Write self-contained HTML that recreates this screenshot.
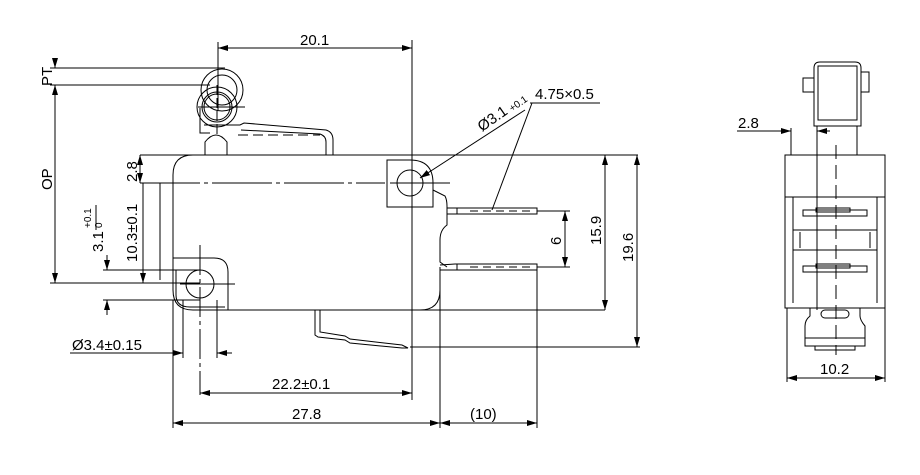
<!DOCTYPE html>
<html><head><meta charset="utf-8"><style>
html,body{margin:0;padding:0;background:#fff}
svg{display:block}
text{font-family:"Liberation Sans",sans-serif;font-size:15px;fill:#000}
</style></head><body>
<svg width="920" height="475" viewBox="0 0 920 475" xmlns="http://www.w3.org/2000/svg">
<defs>
<marker id="a" viewBox="0 0 10 6" refX="10" refY="3" markerWidth="10" markerHeight="6" orient="auto-start-reverse" markerUnits="userSpaceOnUse"><path d="M0,0L10,3L0,6z" fill="#000"/></marker>
</defs>
<g fill="none" stroke="#000" stroke-width="1">
<circle cx="222" cy="90" r="21"/><circle cx="222" cy="90" r="15"/>
<circle cx="217" cy="107" r="20"/><circle cx="217" cy="107" r="13"/><circle cx="217" cy="107" r="15"/>
<path d="M200,108 L200,133 L210,133 M204,125 L240,125 L244,123 L326,130 Q333,132 333,140 L333,155"/>
<path d="M241,130 L320,134 Q326,136 326,142 L326,155"/>
<path d="M205,155 L205,142 Q216,128 227,142 L227,155"/>
<path d="M238,135 L320,135" stroke-dasharray="10,5"/>
<line x1="198" y1="107" x2="245" y2="107"/>
<line x1="217" y1="85" x2="217" y2="135" stroke-dasharray="10,3"/>
<path d="M140,155 L638,155"/>
<path d="M193,155 Q173,155 173,175 L173,290 Q173,310 193,310 L605,310"/>
<path d="M433,190 L445,196 Q447,200 447,206 L447,225 Q440,230 440,240 L440,262 L447,267 M440,267 L440,290 Q440,310 420,310"/>
<path d="M140,183 L385,183" stroke-dasharray="60,4,4,4"/>
<line x1="160" y1="183" x2="160" y2="280"/>
<path d="M410,160 L387,160 L387,207 L433,207 L433,183 Q433,160 410,160"/>
<circle cx="410" cy="183" r="13"/>
<line x1="390" y1="183" x2="450" y2="183"/>
<line x1="412" y1="40" x2="412" y2="400"/>
<path d="M173,258 L214,258 Q228,258 228,272 L228,310"/>
<path d="M176,270 L176,295 Q176,307 190,307 L225,307"/>
<circle cx="200" cy="284" r="14"/>
<line x1="180" y1="284" x2="235" y2="284"/>
<line x1="200" y1="245" x2="200" y2="395" stroke-dasharray="30,4,4,4"/>
<path d="M447,208 L457,208 L457,214 L447,214"/>
<rect x="457" y="208" width="80" height="6"/>
<line x1="470" y1="211" x2="530" y2="211" stroke-dasharray="8,5"/>
<path d="M440,265 L455,264 L457,264 L457,270 L440,270"/>
<rect x="457" y="264" width="80" height="6"/>
<line x1="470" y1="267" x2="530" y2="267" stroke-dasharray="8,5"/>
<path d="M315,310 L315,335 L318,337 L345,340 L350,343 L402,348 L408,348 L402,345 L350,339 L345,336 L320,332 L320,310"/>
<line x1="218" y1="48" x2="412" y2="48" marker-start="url(#a)" marker-end="url(#a)"/>
<line x1="218" y1="42" x2="218" y2="110"/>
<line x1="50" y1="68" x2="225" y2="68"/><line x1="50" y1="85" x2="210" y2="85"/>
<line x1="55" y1="60" x2="55" y2="68" marker-end="url(#a)"/>
<line x1="55" y1="85" x2="55" y2="283" marker-start="url(#a)" marker-end="url(#a)"/>
<line x1="50" y1="283" x2="200" y2="283"/>
<line x1="140" y1="155" x2="140" y2="183" marker-start="url(#a)" marker-end="url(#a)"/>
<line x1="143" y1="183" x2="143" y2="283" marker-end="url(#a)"/>
<line x1="103" y1="270" x2="200" y2="270"/><line x1="103" y1="300" x2="200" y2="300"/>
<line x1="107" y1="255" x2="107" y2="270" marker-end="url(#a)"/><line x1="107" y1="300" x2="107" y2="315" marker-start="url(#a)"/>
<line x1="96" y1="230" x2="96" y2="205"/>
<line x1="183" y1="300" x2="183" y2="358"/><line x1="217" y1="300" x2="217" y2="358"/>
<line x1="70" y1="353" x2="183" y2="353" marker-end="url(#a)"/><line x1="217" y1="353" x2="232" y2="353" marker-start="url(#a)"/>
<line x1="200" y1="393" x2="412" y2="393" marker-start="url(#a)" marker-end="url(#a)"/>
<line x1="173" y1="300" x2="173" y2="428"/><line x1="440" y1="290" x2="440" y2="428"/><line x1="537" y1="270" x2="537" y2="428"/>
<line x1="173" y1="423" x2="440" y2="423" marker-start="url(#a)" marker-end="url(#a)"/>
<line x1="440" y1="423" x2="537" y2="423" marker-start="url(#a)" marker-end="url(#a)"/>
<line x1="537" y1="211" x2="570" y2="211"/><line x1="537" y1="267" x2="570" y2="267"/>
<line x1="565" y1="211" x2="565" y2="267" marker-start="url(#a)" marker-end="url(#a)"/>
<line x1="605" y1="155" x2="605" y2="310" marker-start="url(#a)" marker-end="url(#a)"/>
<line x1="410" y1="347" x2="640" y2="347"/>
<line x1="637" y1="155" x2="637" y2="347" marker-start="url(#a)" marker-end="url(#a)"/>
<line x1="525" y1="110" x2="420" y2="178" marker-end="url(#a)"/>
<line x1="530" y1="103" x2="600" y2="103"/><line x1="532" y1="103" x2="492" y2="210"/>
<path d="M814,126 L814,68 Q814,62 820,62 L855,62 Q861,62 861,68 L861,126 Z"/>
<path d="M818,120 L818,66 L857,66 L857,120 Z"/>
<rect x="803" y="78" width="11" height="14"/><rect x="861" y="72" width="8" height="20"/>
<path d="M817,126 L817,155 M857,126 L857,155"/>
<rect x="785" y="155" width="100" height="153"/>
<line x1="785" y1="197" x2="885" y2="197"/>
<path d="M793,197 L793,303 M877,197 L877,303 M793,230 L877,230 M793,250 L877,250 M800,232 L800,248 M870,232 L870,248"/>
<rect x="803" y="210" width="64" height="6"/><rect x="816" y="208" width="34" height="4"/>
<rect x="803" y="266" width="64" height="6"/><rect x="816" y="264" width="34" height="4"/>
<path d="M810,308 L810,316 Q805,320 805,326 L805,338 L865,338 L865,326 Q860,320 860,316 L860,308 M805,338 L805,346 L865,346 L865,338 M815,346 L815,350 L855,350 L855,346"/>
<rect x="821" y="310" width="28" height="8" rx="4"/>
<line x1="836" y1="145" x2="836" y2="355" stroke-dasharray="14,6"/>
<line x1="791" y1="128" x2="791" y2="155"/><line x1="817" y1="126" x2="817" y2="310"/>
<line x1="737" y1="131" x2="791" y2="131" marker-end="url(#a)"/><line x1="817" y1="131" x2="830" y2="131" marker-start="url(#a)"/>
<line x1="787" y1="308" x2="787" y2="382"/><line x1="885" y1="308" x2="885" y2="382"/>
<line x1="787" y1="378" x2="885" y2="378" marker-start="url(#a)" marker-end="url(#a)"/>
</g>
<g>
<text x="300" y="45">20.1</text>
<text transform="translate(52,86) rotate(-90)">PT</text>
<text transform="translate(52,190) rotate(-90)">OP</text>
<text transform="translate(137,182) rotate(-90)">2.8</text>
<text transform="translate(137,262) rotate(-90)">10.3±0.1</text>
<text transform="translate(103,252) rotate(-90)">3.1</text>
<text transform="translate(91,228) rotate(-90)" style="font-size:10px">+0.1</text>
<text transform="translate(102,228) rotate(-90)" style="font-size:10px">0</text>
<text x="72" y="350">Ø3.4±0.15</text>
<text x="272" y="389">22.2±0.1</text>
<text x="292" y="419">27.8</text>
<text x="470" y="419">(10)</text>
<text transform="translate(561,245) rotate(-90)">6</text>
<text transform="translate(601,245) rotate(-90)">15.9</text>
<text transform="translate(633,262) rotate(-90)">19.6</text>
<text transform="translate(482,132) rotate(-35)">Ø3.1</text>
<text transform="translate(512,112) rotate(-35)" style="font-size:10px">+0.1</text>
<text x="535" y="99">4.75×0.5</text>
<text x="738" y="128">2.8</text>
<text x="820" y="374">10.2</text>
</g>
</svg>
</body></html>
